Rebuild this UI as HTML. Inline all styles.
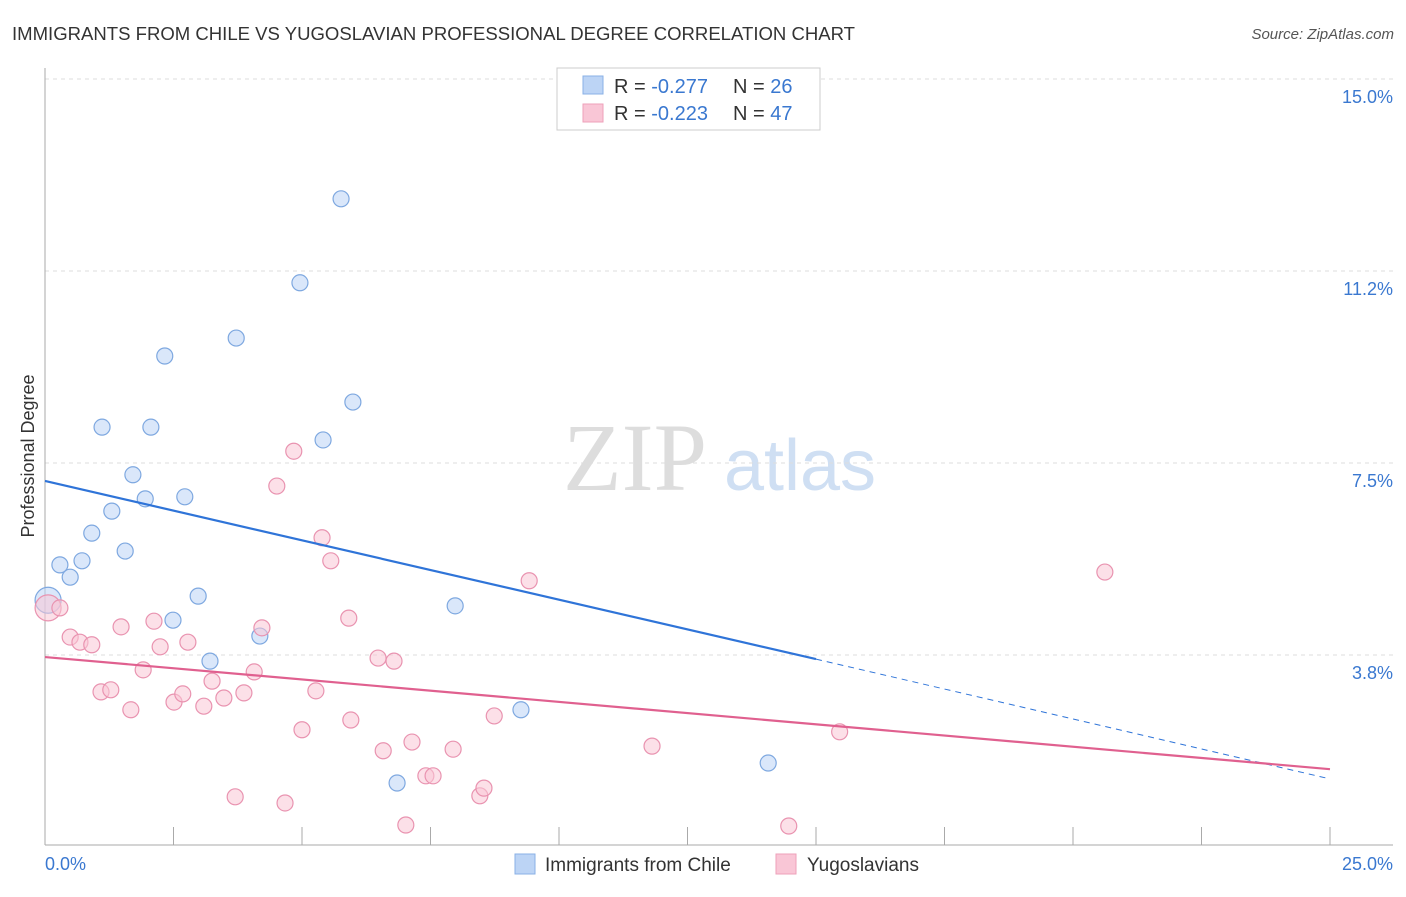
<!DOCTYPE html>
<html><head><meta charset="utf-8"><style>
body{margin:0;background:#fff;font-family:"Liberation Sans",sans-serif}
</style></head><body>
<svg id="c" width="1406" height="892" xmlns="http://www.w3.org/2000/svg">
<text x="12" y="40" font-size="18" fill="#333" textLength="843" lengthAdjust="spacingAndGlyphs">IMMIGRANTS FROM CHILE VS YUGOSLAVIAN PROFESSIONAL DEGREE CORRELATION CHART</text>
<text x="1394" y="39" font-size="15" fill="#555" font-style="italic" text-anchor="end">Source: ZipAtlas.com</text>
<text x="635" y="490" font-size="96" fill="#ddd" font-family="Liberation Serif" text-anchor="middle">ZIP</text>
<text x="800" y="490" font-size="72" fill="#cfdff3" text-anchor="middle">atlas</text>
<text transform="translate(34,456) rotate(-90)" font-size="18" fill="#333" text-anchor="middle">Professional Degree</text>
<g id="grid"></g><g id="axes"></g><g id="marks"></g>
<g>
<rect x="557" y="68" width="263" height="62" fill="#fff" stroke="#ccc"/>
<rect x="583" y="76" width="20" height="18" fill="#bcd4f5" stroke="#8ab0e6"/>
<rect x="583" y="104" width="20" height="18" fill="#f9c6d6" stroke="#eea0ba"/>
<text x="614" y="93" font-size="20" fill="#333">R = <tspan fill="#3a78d0">-0.277</tspan><tspan x="733">N = </tspan><tspan fill="#3a78d0">26</tspan></text>
<text x="614" y="120" font-size="20" fill="#333">R = <tspan fill="#3a78d0">-0.223</tspan><tspan x="733">N = </tspan><tspan fill="#3a78d0">47</tspan></text>
</g>
<g>
<rect x="515" y="854" width="20" height="20" fill="#bcd4f5" stroke="#8ab0e6"/>
<text x="545" y="871" font-size="19" fill="#333">Immigrants from Chile</text>
<rect x="776" y="854" width="20" height="20" fill="#f9c6d6" stroke="#eea0ba"/>
<text x="807" y="871" font-size="19" fill="#333">Yugoslavians</text>
</g>
</svg>
<script>
const yTicks=[3.75,7.5,11.25,15];
const yTickLabels=["3.8%","7.5%","11.2%","15.0%"];
const xTickCount=10;
const blueX=[0.06,0.29,0.49,0.72,0.91,1.11,1.30,1.56,1.71,1.95,2.06,2.33,2.49,2.72,2.98,3.21,3.72,4.18,4.96,5.41,5.76,5.99,7.98,9.26,6.85,14.07];
const blueY=[4.82,5.51,5.27,5.59,6.13,8.20,6.56,5.78,7.27,6.80,8.20,9.59,4.43,6.84,4.90,3.63,9.94,4.12,11.02,7.95,12.66,8.69,4.71,2.68,1.25,1.64];
const pinkX=[0.06,0.29,0.49,0.68,0.91,1.09,1.28,1.48,1.67,1.91,2.12,2.24,2.51,2.68,2.78,3.09,3.25,3.48,3.70,3.87,4.07,4.22,4.67,4.51,4.84,5.00,5.27,5.39,5.56,5.91,5.95,6.48,6.58,6.79,7.02,7.14,7.41,7.55,7.94,8.46,8.54,8.74,9.42,11.81,14.47,15.46,20.62];
const pinkY=[4.67,4.67,4.10,4.00,3.95,3.03,3.07,4.30,2.68,3.46,4.41,3.91,2.83,2.99,4.00,2.75,3.24,2.91,0.98,3.01,3.42,4.28,0.86,7.05,7.73,2.29,3.05,6.04,5.59,4.47,2.48,3.69,1.88,3.63,0.43,2.05,1.39,1.39,1.91,1.00,1.15,2.56,5.20,1.97,0.41,2.25,5.37];
const blueTrend=[[0,7.15],[15,3.67],[25,1.33]];
const pinkTrend=[[0,3.71],[25,1.52]];
const X=v=>45+v*51.4, Y=v=>847-v*51.2;
const NS="http://www.w3.org/2000/svg";
function mk(p,t,a){const e=document.createElementNS(NS,t);for(const k in a)e.setAttribute(k,a[k]);p.appendChild(e);return e;}
const grid=document.getElementById('grid'),axes=document.getElementById('axes'),marks=document.getElementById('marks');
yTicks.forEach((v,i)=>{
 const l=mk(grid,'line',{x1:45,x2:1393,y1:Y(v),y2:Y(v),stroke:'#ddd','stroke-dasharray':'4,4'});
 
 
 const t=mk(axes,'text',{x:1393,y:Y(v)+24,'font-size':18,fill:'#3a78d0','text-anchor':'end'});
 t.textContent=yTickLabels[i];
 
 
});
const ax=mk(axes,'line',{x1:45,x2:1393,y1:845,y2:845,stroke:'#aaa'});


const ay=mk(axes,'line',{x1:45,x2:45,y1:68,y2:845,stroke:'#aaa'});


for(let i=1;i<=xTickCount;i++){const x=X(i*2.5);const t=mk(axes,'line',{x1:x,x2:x,y1:827,y2:845,stroke:'#aaa'});
 
 }
const x0=mk(axes,'text',{x:45,y:870,'font-size':18,fill:'#3a78d0'});x0.textContent='0.0%';


const x1=mk(axes,'text',{x:1393,y:870,'font-size':18,fill:'#3a78d0','text-anchor':'end'});x1.textContent='25.0%';


function pts(xs,ys,fill,stroke,name){xs.forEach((v,i)=>{const r=i==0?13:8;
 const c=mk(marks,'circle',{cx:X(v),cy:Y(ys[i]),r:r,fill:fill,'fill-opacity':0.55,stroke:stroke,'stroke-width':1.2});
 
 });}
pts(blueX,blueY,'#bcd4f5','#7ea8e0','chile-point');
pts(pinkX,pinkY,'#f9c6d6','#e993b0','yugoslavian-point');
const b1=mk(marks,'line',{x1:X(blueTrend[0][0]),y1:Y(blueTrend[0][1]),x2:X(blueTrend[1][0]),y2:Y(blueTrend[1][1]),stroke:'#2f74d8','stroke-width':2.2});


const b2=mk(marks,'line',{x1:X(blueTrend[1][0]),y1:Y(blueTrend[1][1]),x2:X(blueTrend[2][0]),y2:Y(blueTrend[2][1]),stroke:'#2f74d8','stroke-width':1,'stroke-dasharray':'6,5'});


const p1=mk(marks,'line',{x1:X(pinkTrend[0][0]),y1:Y(pinkTrend[0][1]),x2:X(pinkTrend[1][0]),y2:Y(pinkTrend[1][1]),stroke:'#e0608f','stroke-width':2.2});


</script>
</body></html>
